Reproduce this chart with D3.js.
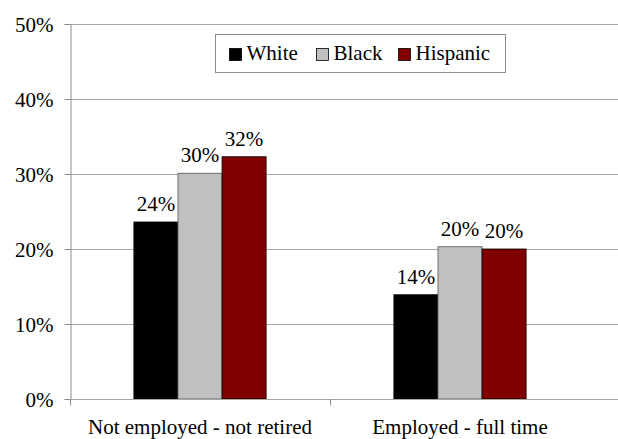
<!DOCTYPE html>
<html>
<head>
<meta charset="utf-8">
<script src="https://cdn.jsdelivr.net/npm/d3@7"></script>
<style>
  html, body { margin: 0; padding: 0; background: #fff; }
  svg { display: block; }
  svg text { font-family: "Liberation Serif", "Times New Roman", "DejaVu Serif"; font-size: 21px; }
</style>
</head>
<body>
<svg id="chart" width="618" height="439"></svg>
<script>
// Share of respondents by employment status and race/ethnicity (percent)
const categories = ["Not employed - not retired", "Employed - full time"];
const seriesNames = ["White", "Black", "Hispanic"];
const white = [23.6, 13.9];
const black = [30.1, 20.3];
const hispanic = [32.3, 20.0];
const yTicks = [0, 10, 20, 30, 40, 50];
const colors = ["#000000", "#c0c0c0", "#800000"];

const seriesValues = [white, black, hispanic];
const FONT = '"Liberation Serif", "Times New Roman", "DejaVu Serif"';
const FONT_SIZE = "21px";

const svg = d3.select("#chart");
const plotLeft = 70, plotRight = 590, plotTop = 24, plotBottom = 399, gridRight = 618;

const x = d3.scaleBand().domain(categories).range([plotLeft, plotRight]).paddingInner(0).paddingOuter(0);
const xs = d3.scaleBand().domain(seriesNames).range([0, x.bandwidth()]).paddingInner(0).paddingOuter(1.45);
const y = d3.scaleLinear().domain([0, 50]).range([plotBottom, plotTop]);

function serif(sel) {
  return sel.attr("font-family", FONT).attr("font-size", FONT_SIZE)
    .style("font-family", FONT).style("font-size", FONT_SIZE).attr("fill", "#000");
}

// horizontal gridlines
svg.append("g")
  .selectAll("line")
  .data(yTicks.filter(d => d > 0))
  .join("line")
  .attr("x1", plotLeft).attr("x2", gridRight)
  .attr("y1", d => Math.round(y(d)) + 0.5).attr("y2", d => Math.round(y(d)) + 0.5)
  .attr("stroke", "#a6a6a6").attr("stroke-width", 1);

// y axis
const yAxis = svg.append("g")
  .attr("transform", `translate(${plotLeft + 0.5},0)`)
  .call(d3.axisLeft(y).tickValues(yTicks).tickSize(6).tickPadding(11).tickFormat(d => d + "%"));
yAxis.attr("font-family", null).attr("font-size", null);
yAxis.select(".domain").attr("stroke", "#8c8c8c");
yAxis.selectAll(".tick line").attr("stroke", "#8c8c8c");
yAxis.selectAll("text").call(serif).attr("dy", "0.34em");

// bars
const groups = svg.append("g")
  .selectAll("g")
  .data(categories)
  .join("g")
  .attr("transform", d => `translate(${x(d)},0)`);

groups.each(function(cat, ci) {
  const g = d3.select(this);
  seriesNames.forEach((s, si) => {
    const v = seriesValues[si][ci];
    g.append("rect")
      .attr("x", xs(s))
      .attr("y", y(v))
      .attr("width", xs.bandwidth())
      .attr("height", y(0) - y(v))
      .attr("fill", colors[si])
      .attr("stroke", si === 1 ? "#555" : "#000")
      .attr("stroke-width", 0.8);
    g.append("text")
      .attr("x", xs(s) + xs.bandwidth() / 2)
      .attr("y", y(v) - 11)
      .attr("text-anchor", "middle")
      .call(serif)
      .text(Math.round(v) + "%");
  });
});

// x axis
const xAxisG = svg.append("g").attr("transform", `translate(0,${plotBottom + 0.5})`);
xAxisG.append("line").attr("x1", plotLeft).attr("x2", gridRight).attr("stroke", "#a6a6a6");
xAxisG.selectAll("line.tk")
  .data(categories)
  .join("line")
  .attr("class", "tk")
  .attr("x1", d => Math.round(x(d)) + 0.5).attr("x2", d => Math.round(x(d)) + 0.5)
  .attr("y1", 0).attr("y2", 6)
  .attr("stroke", "#8c8c8c");
xAxisG.selectAll("text")
  .data(categories)
  .join("text")
  .attr("x", d => x(d) + x.bandwidth() / 2)
  .attr("y", 34)
  .attr("text-anchor", "middle")
  .call(serif)
  .text(d => d);

// legend
const legend = svg.append("g");
legend.append("rect")
  .attr("x", 215.5).attr("y", 34.5).attr("width", 290).attr("height", 38)
  .attr("fill", "#fff").attr("stroke", "#8c8c8c");
const legendX = [229, 316, 398];
seriesNames.forEach((s, i) => {
  legend.append("rect")
    .attr("x", legendX[i] + 0.5).attr("y", 48.5).attr("width", 12).attr("height", 12)
    .attr("fill", colors[i]).attr("stroke", "#000").attr("stroke-width", 0.8);
  legend.append("text")
    .attr("x", legendX[i] + 17.5).attr("y", 60)
    .call(serif)
    .text(s);
});
</script>
</body>
</html>
